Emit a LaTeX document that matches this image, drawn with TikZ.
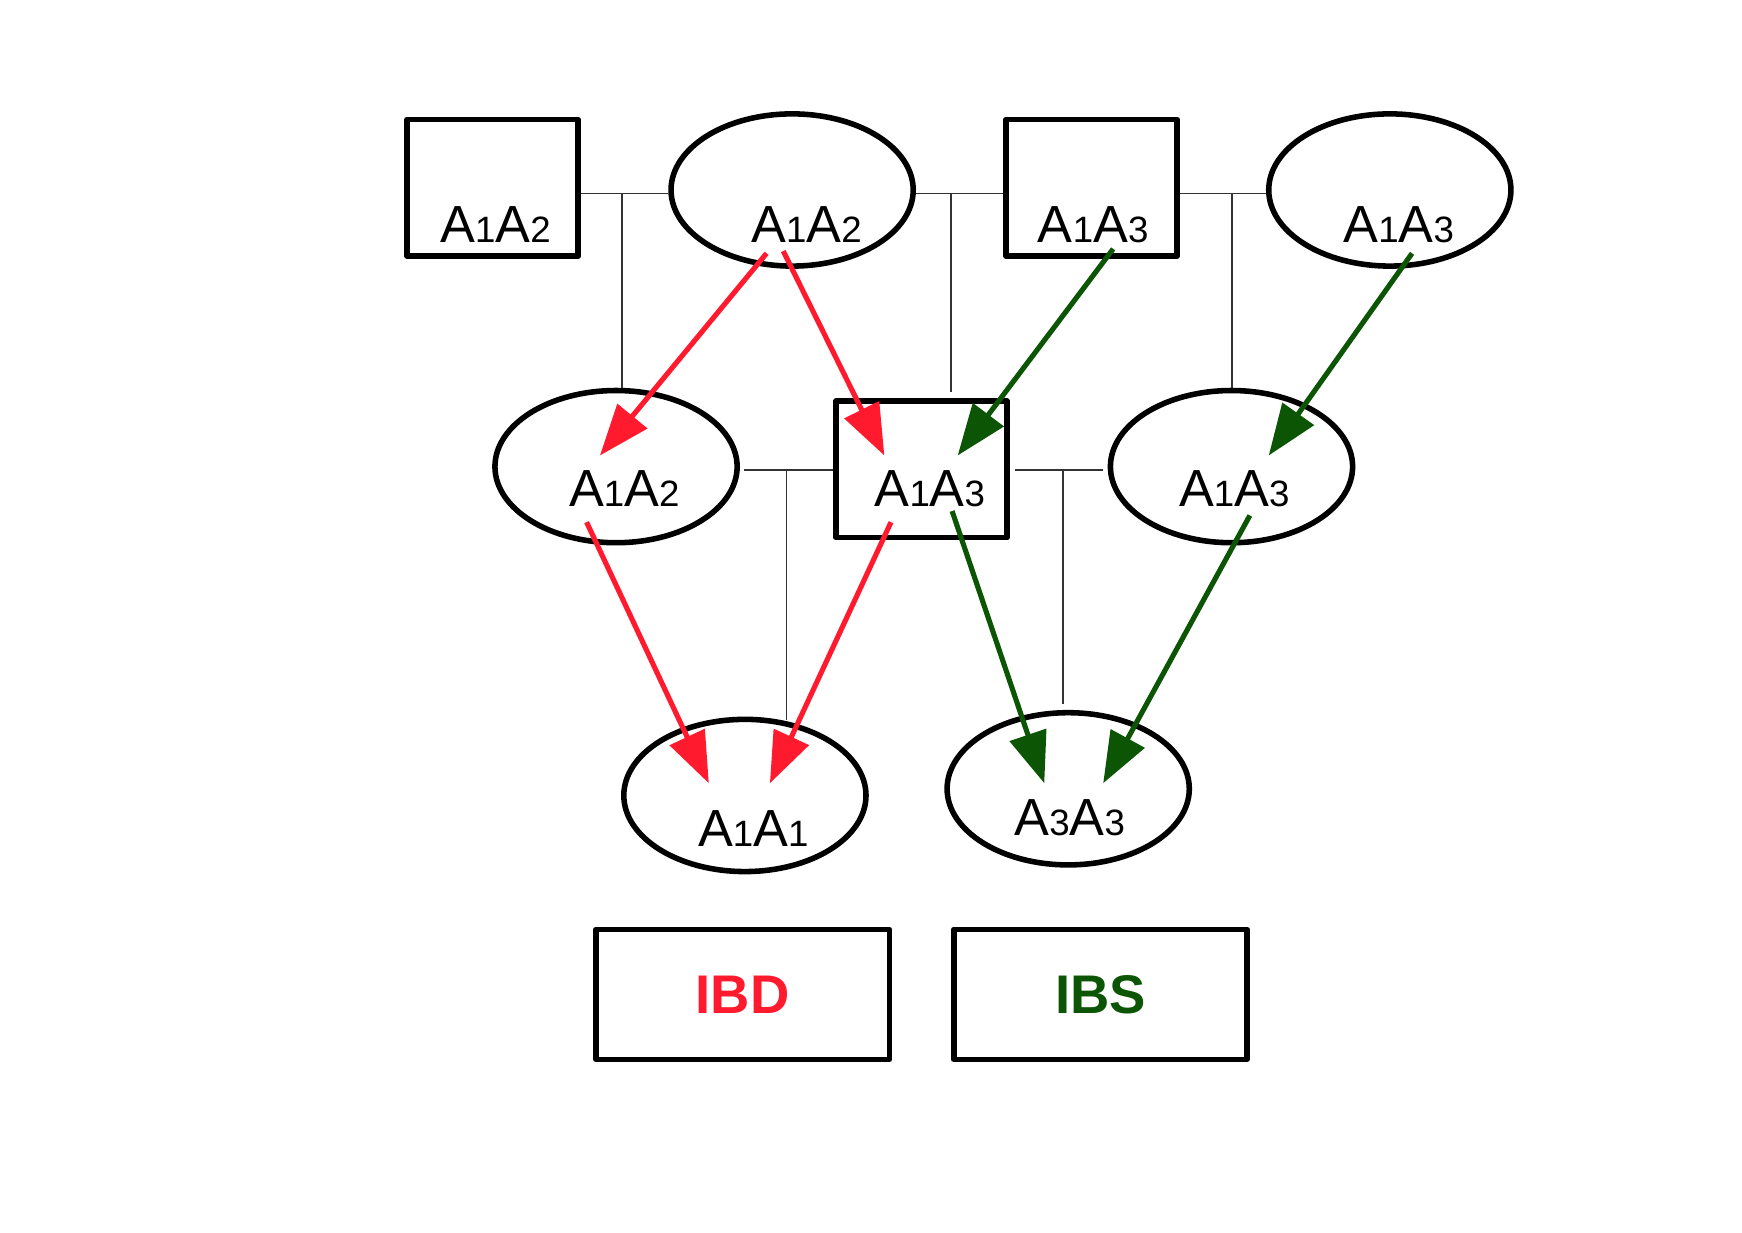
\documentclass[tikz,border=0pt]{standalone}
\usepackage{fontspec}
\setmainfont{Liberation Sans}
\usetikzlibrary{arrows.meta, shapes.geometric}
\definecolor{ibdred}{HTML}{FF1A2E}
\definecolor{ibsgreen}{HTML}{0B5504}
\newcommand{\geno}[4]{#1{\fontsize{33}{33}\selectfont #2}#3{\fontsize{33}{33}\selectfont #4}}
\tikzset{
  male/.style={
    draw,
    rectangle,
    line width=5pt,
    line join=round,
    minimum width=154pt,
    minimum height=123pt,
    inner sep=0pt
  },
  female/.style={
    draw,
    ellipse,
    line width=5pt,
    minimum width=218pt,
    minimum height=137pt,
    inner sep=0pt
  },
  geno label/.style={
    anchor=base,
    inner sep=0pt,
    font=\fontsize{47}{50}\selectfont
  },
  mating/.style={
    line width=1.3pt,
    color=black!80
  },
  ibd arrow/.style={
    -{Triangle[length=46pt, width=34pt]},
    line width=4.6pt,
    color=ibdred
  },
  ibs arrow/.style={
    -{Triangle[length=46pt, width=34pt]},
    line width=4.6pt,
    color=ibsgreen
  },
  legend box/.style={
    draw,
    rectangle,
    line width=5pt,
    line join=round,
    minimum width=264pt,
    minimum height=117pt,
    font=\fontsize{49}{50}\selectfont\bfseries
  }
}

\begin{document}
\begin{tikzpicture}[x=1pt, y=-1pt]
    % 1 unit = 1 pixel of the drawing, y runs downwards
    \useasboundingbox (0,0) rectangle (1568,1109);

    % parents (top row)
    \node[male]   (mA) at (443.5,169) {};
    \node[female] (fA) at (713,171)   {};
    \node[male]   (mB) at (982.5,169) {};
    \node[female] (fB) at (1251,171)  {};

    % children (middle row)
    \node[female] (cF1) at (554.5,420)  {};
    \node[male]   (cM)  at (829.5,422.5) {};
    \node[female] (cF2) at (1108.5,420) {};

    % grandchildren (bottom row)
    \node[female] (gF1) at (670.5,716) {};
    \node[female] (gF2) at (961.5,710) {};

    % genotypes
    \node[geno label] (tmA)  at ([shift={(2.5,49)}]mA.center)  {\geno{A}{1}{A}{2}};
    \node[geno label] (tfA)  at ([shift={(13,47)}]fA.center)   {\geno{A}{1}{A}{2}};
    \node[geno label] (tmB)  at ([shift={(1.5,49)}]mB.center)  {\geno{A}{1}{A}{3}};
    \node[geno label] (tfB)  at ([shift={(8,47)}]fB.center)    {\geno{A}{1}{A}{3}};
    \node[geno label] (tcF1) at ([shift={(7.5,36)}]cF1.center) {\geno{A}{1}{A}{2}};
    \node[geno label] (tcM)  at ([shift={(7.5,33.5)}]cM.center) {\geno{A}{1}{A}{3}};
    \node[geno label] (tcF2) at ([shift={(2.5,36)}]cF2.center) {\geno{A}{1}{A}{3}};
    \node[geno label] (tgF1) at ([shift={(7.5,46)}]gF1.center) {\geno{A}{1}{A}{1}};
    \node[geno label] (tgF2) at ([shift={(1.5,42)}]gF2.center) {\geno{A}{3}{A}{3}};

    % mating lines and lines of descent
    \coordinate (j1) at (560,174);
    \coordinate (j2) at (856,174);
    \coordinate (j3) at (1109,174);
    \coordinate (j4) at (708,423);
    \coordinate (j5) at (957,423);
    \draw[mating] (mA.east |- j1) -- (fA.west |- j1);
    \draw[mating] (j1) -- (j1 |- cF1.north);
    \draw[mating] (fA.east |- j2) -- (mB.west |- j2);
    \draw[mating] (j2) -- ([yshift=6pt]j2 |- cM.north);
    \draw[mating] (mB.east |- j3) -- (fB.west |- j3);
    \draw[mating] (j3) -- (j3 |- cF2.north);
    \draw[mating] ([xshift=4pt]cF1.east |- j4) -- (cM.west |- j4);
    \draw[mating] (j4) -- ([yshift=-3pt]j4 |- gF1.north);
    \draw[mating] ([xshift=5pt]cM.east |- j5) -- ([xshift=-4pt]cF2.west |- j5);
    \draw[mating] (j5) -- ([yshift=5pt]j5 |- gF2.north);

    % IBD (red)
    \draw[ibd arrow] ([shift={(-23,57)}]fA.center)    -- ([shift={(-14.5,-10)}]cF1.center);
    \draw[ibd arrow] ([shift={(-8,55)}]fA.center)     -- ([shift={(-33.5,-12.5)}]cM.center);
    \draw[ibd arrow] ([shift={(-26.5,50)}]cF1.center) -- ([shift={(-32.5,-11)}]gF1.center);
    \draw[ibd arrow] ([shift={(-27.5,47.5)}]cM.center) -- ([shift={(22.5,-11)}]gF1.center);

    % IBS (green)
    \draw[ibs arrow] ([shift={(19.5,55)}]mB.center)   -- ([shift={(32.5,-12.5)}]cM.center);
    \draw[ibs arrow] ([shift={(20,57)}]fB.center)     -- ([shift={(33.5,-10)}]cF2.center);
    \draw[ibs arrow] ([shift={(27.5,37.5)}]cM.center) -- ([shift={(-21.5,-5)}]gF2.center);
    \draw[ibs arrow] ([shift={(16.5,44)}]cF2.center)  -- ([shift={(31.5,-5)}]gF2.center);

    % legend
    \node[legend box, text=ibdred]   (ibd) at (668.5,895) {IBD};
    \node[legend box, text=ibsgreen] (ibs) at (990.5,895) {IBS};

  \end{tikzpicture}
\end{document}
